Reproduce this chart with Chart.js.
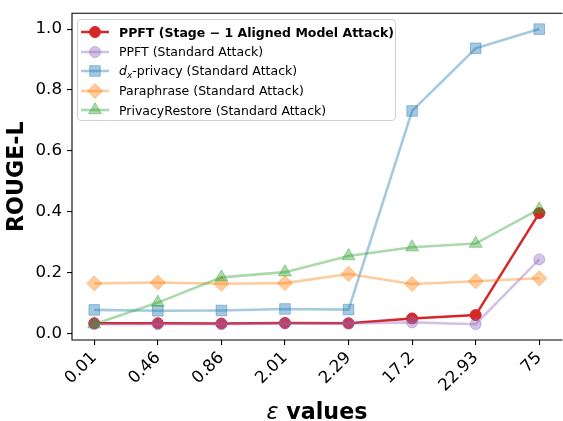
<!DOCTYPE html>
<html><head><meta charset="utf-8">
<script src="https://cdn.jsdelivr.net/npm/chart.js@4/dist/chart.umd.min.js"></script>
<style>
html,body{margin:0;padding:0;background:#fff;overflow:hidden;}
#wrap{position:relative;width:563px;height:421px;overflow:hidden;}
#c{position:absolute;left:0;top:0;}
#legend{position:absolute;left:77px;top:19px;width:319px;height:102px;border:1px solid #d0d0d0;border-radius:4px;background:rgba(255,255,255,0.8);font-family:"DejaVu Sans",sans-serif;font-size:12.5px;box-sizing:border-box;color:#000;}
.row{position:absolute;left:0;height:20px;display:flex;align-items:center;white-space:nowrap;}
.row canvas{margin-left:2px;margin-right:9px;}
#xtitle{position:absolute;left:167px;top:400px;width:300px;text-align:center;font-family:"DejaVu Sans",sans-serif;font-size:22.2px;line-height:22.2px;font-weight:bold;color:#000;white-space:nowrap;}
#xtitle i{font-weight:normal;font-style:italic;}
</style></head>
<body><div id="wrap"><canvas id="c" width="570" height="421"></canvas><div id="legend"></div><div id="xtitle"></div></div>
<script>
const categories = ['0.01','0.46','0.86','2.01','2.29','17.2','22.93','75'];
const yTicks = [0.0, 0.2, 0.4, 0.6, 0.8, 1.0];
const ppftStage1 = [0.033, 0.033, 0.032, 0.034, 0.033, 0.049, 0.060, 0.395];
const ppftStd = [0.030, 0.030, 0.030, 0.032, 0.032, 0.036, 0.030, 0.243];
const dxPrivacy = [0.077, 0.074, 0.075, 0.080, 0.078, 0.731, 0.937, 1.000];
const paraphrase = [0.164, 0.167, 0.163, 0.165, 0.195, 0.162, 0.171, 0.181];
const privacyRestore = [0.030, 0.101, 0.184, 0.201, 0.254, 0.283, 0.295, 0.408];

const names = ['PPFT (Stage \u2212 1 Aligned Model Attack)', 'PPFT (Standard Attack)', 'dx-privacy (Standard Attack)', 'Paraphrase (Standard Attack)', 'PrivacyRestore (Standard Attack)'];
const legendHtml = ['<b>PPFT (Stage \u2212 1 Aligned Model Attack)</b>', 'PPFT (Standard Attack)', '<i>d</i><sub style="font-size:9px;vertical-align:-3px"><i>x</i></sub>-privacy (Standard Attack)', 'Paraphrase (Standard Attack)', 'PrivacyRestore (Standard Attack)'];
const xTitleHtml = '<i>\u03b5</i> values';
const yTitle = 'ROUGE-L';

function rgba(hex, a){const n=parseInt(hex.slice(1),16);return `rgba(${n>>16},${(n>>8)&255},${n&255},${a})`;}
const specs = [
  {data: ppftStage1, color:'#d62728', alpha:1, style:'circle', r:5.5, lw:2.5, order:4},
  {data: ppftStd, color:'#9467bd', alpha:0.4, style:'circle', r:5.5, lw:2.6, order:3},
  {data: dxPrivacy, color:'#1f77b4', alpha:0.4, style:'rect', r:7.5, lw:2.6, order:2},
  {data: paraphrase, color:'#ff7f0e', alpha:0.4, style:'rectRot', r:7.5, lw:2.6, order:1},
  {data: privacyRestore, color:'#2ca02c', alpha:0.4, style:'triangle', r:7.5, lw:2.6, order:0},
];

const datasets = specs.map((s,i)=>({
  label: names[i],
  data: s.data.map((v,j)=>({x:j,y:v})),
  borderColor: rgba(s.color,s.alpha),
  backgroundColor: rgba(s.color,s.alpha),
  pointBackgroundColor: rgba(s.color,s.alpha),
  pointBorderColor: rgba(s.color,s.alpha),
  pointBorderWidth: 1,
  pointStyle: s.style,
  pointRadius: s.r,
  borderWidth: s.lw,
  order: s.order,
  tension: 0,
  clip: false
}));

const frame = {id:'frame', afterDraw(chart){const {ctx,chartArea:a}=chart;ctx.save();ctx.strokeStyle='#000';ctx.lineWidth=1.1;
  ctx.beginPath();ctx.moveTo(a.right+1,a.top);ctx.lineTo(a.left,a.top);ctx.lineTo(a.left,a.bottom);ctx.lineTo(a.right+1,a.bottom);
  ctx.stroke();ctx.restore();}};

new Chart(document.getElementById('c'), {
  type:'line',
  data:{datasets},
  options:{
    responsive:false, animation:false, devicePixelRatio:1,
    layout:{padding:{top:13.3,right:7,left:0,bottom:0}},
    plugins:{legend:{display:false}, tooltip:{enabled:false}},
    scales:{
      x:{type:'linear', min:-0.35, max:7.35,
        afterBuildTicks(s){s.ticks=categories.map((c,i)=>({value:i}));},
        afterFit(s){s.height=81;s.paddingLeft=0;s.paddingRight=0;},
        ticks:{callback:(v)=>categories[v], minRotation:45, maxRotation:45, autoSkip:false, padding:3, color:'#000', font:{family:'DejaVu Sans', size:16.67}},
        grid:{display:true, drawOnChartArea:false, drawTicks:true, tickLength:5, color:'#000', lineWidth:1.1},
        border:{display:false},
        title:{display:false}
      },
      y:{type:'linear', min:-0.022, max:1.052,
        afterBuildTicks(s){s.ticks=yTicks.map(v=>({value:v}));},
        afterFit(s){s.width=72;s.paddingTop=0;s.paddingBottom=0;},
        ticks:{callback:(v)=>v.toFixed(1), padding:5, color:'#000', font:{family:'DejaVu Sans', size:16.67}},
        grid:{display:true, drawOnChartArea:false, drawTicks:true, tickLength:5, color:'#000', lineWidth:1.1},
        border:{display:false},
        title:{display:true, text:yTitle, color:'#000', font:{family:'DejaVu Sans', size:22.2, weight:'bold', lineHeight:1.2}, padding:{top:4,bottom:0}}
      }
    }
  },
  plugins:[frame]
});

document.getElementById('xtitle').innerHTML = xTitleHtml;

function drawMarker(ctx, style, x, y, r){
  ctx.beginPath();
  if(style==='circle'){ctx.arc(x,y,r,0,Math.PI*2);}
  else if(style==='rect'){const s=r*Math.SQRT1_2;ctx.rect(x-s,y-s,2*s,2*s);}
  else if(style==='rectRot'){ctx.moveTo(x,y-r);ctx.lineTo(x+r,y);ctx.lineTo(x,y+r);ctx.lineTo(x-r,y);ctx.closePath();}
  else if(style==='triangle'){for(let k=0;k<3;k++){const a=k*2*Math.PI/3;const px=x+Math.sin(a)*r, py=y-Math.cos(a)*r; if(k===0)ctx.moveTo(px,py); else ctx.lineTo(px,py);}ctx.closePath();}
  ctx.fill();ctx.stroke();
}
const leg = document.getElementById('legend');
specs.forEach((s,i)=>{
  const row=document.createElement('div');row.className='row';row.style.top=(2+19.5*i)+'px';
  const cv=document.createElement('canvas');cv.width=30;cv.height=20;
  const ctx=cv.getContext('2d');
  ctx.strokeStyle=rgba(s.color,s.alpha);ctx.lineWidth=s.lw;
  ctx.beginPath();ctx.moveTo(1,10);ctx.lineTo(29,10);ctx.stroke();
  ctx.fillStyle=rgba(s.color,s.alpha);ctx.lineWidth=1;
  drawMarker(ctx,s.style,15,10,s.r);
  row.appendChild(cv);
  const sp=document.createElement('span');sp.innerHTML=legendHtml[i];row.appendChild(sp);
  leg.appendChild(row);
});
</script></body></html>
